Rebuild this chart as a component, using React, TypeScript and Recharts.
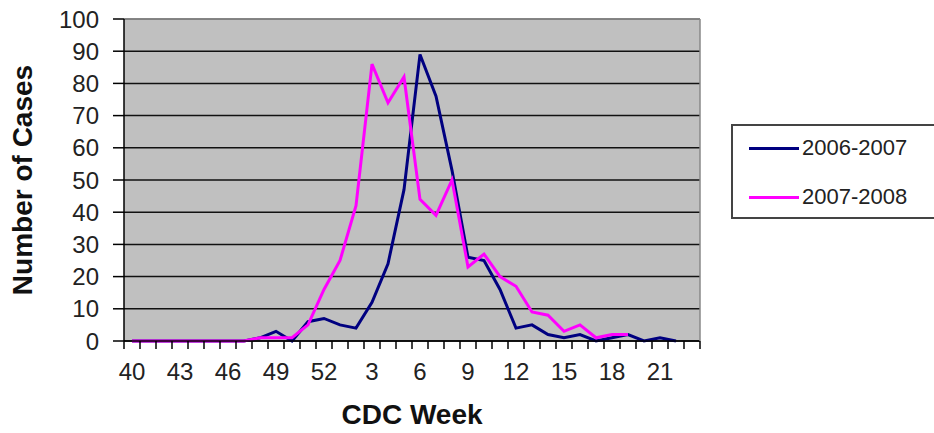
import { LineChart, Line, XAxis, YAxis, CartesianGrid, ReferenceLine, Legend } from 'recharts'

const weeks = [
  '40', '41', '42', '43', '44', '45', '46', '47', '48', '49', '50', '51', '52',
  '1', '2', '3', '4', '5', '6', '7', '8', '9', '10', '11', '12', '13', '14',
  '15', '16', '17', '18', '19', '20', '21', '22', '23',
]

const season0607 = [
  0, 0, 0, 0, 0, 0, 0, 0, 1, 3, 0, 6, 7,
  5, 4, 12, 24, 47, 89, 76, 53, 26, 25, 16, 4, 5, 2,
  1, 2, 0, 1, 2, 0, 1, 0, null,
]

const season0708 = [
  0, 0, 0, 0, 0, 0, 0, 0, 1, 1, 1, 5, 16,
  25, 42, 86, 74, 82, 44, 39, 50, 23, 27, 20, 17, 9, 8,
  3, 5, 1, 2, 2, null, null, null, null,
]

const yTicks = [0, 10, 20, 30, 40, 50, 60, 70, 80, 90, 100]

const data = weeks.map((w, i) => ({ week: w, a: season0607[i], b: season0708[i] }))

const FONT = '"Liberation Sans", Arial, sans-serif'
const W = 934
const H = 433
const Y_AXIS_W = 124
const MARGIN_RIGHT = 233
const PLOT_W = W - Y_AXIS_W - MARGIN_RIGHT - 1
const BAND = PLOT_W / weeks.length

function WeekTick(props: any) {
  const { x, y, payload, index } = props
  const left = x - BAND / 2
  const last = index === weeks.length - 1
  return (
    <g>
      <line x1={left} y1={y} x2={left} y2={y + 8} stroke="#000" strokeWidth={1.5} />
      {last && <line x1={x + BAND / 2} y1={y} x2={x + BAND / 2} y2={y + 8} stroke="#000" strokeWidth={1.5} />}
      {index % 3 === 0 && (
        <text x={x} y={y + 39} textAnchor="middle" fontSize={24} fill="#222" fontFamily={FONT}>
          {payload.value}
        </text>
      )}
    </g>
  )
}

function LegendBox() {
  const items = [
    { name: '2006-2007', color: '#000080' },
    { name: '2007-2008', color: '#ff00ff' },
  ]
  return (
    <div style={{ width: 210, height: 95, border: '2px solid #444', background: '#fff', boxSizing: 'border-box', position: 'relative', fontFamily: FONT }}>
      {items.map((it, i) => (
        <div key={it.name} style={{ position: 'absolute', left: 16, top: 8 + i * 49, height: 28, display: 'flex', alignItems: 'center' }}>
          <div style={{ width: 50, height: 3, background: it.color, marginRight: 3 }} />
          <span style={{ fontSize: 22, color: '#222' }}>{it.name}</span>
        </div>
      ))}
    </div>
  )
}

export default function App() {
  return (
    <div style={{ position: 'absolute', left: 0, top: 0, width: W, height: H, background: '#fff', overflow: 'hidden' }}>
      <LineChart width={W} height={H} data={data} margin={{ top: 19, right: MARGIN_RIGHT, bottom: 0, left: 0 }}>
        <CartesianGrid vertical={false} stroke="#111" strokeWidth={1.5} fill="#c0c0c0" />
        <XAxis
          dataKey="week"
          scale="band"
          interval={0}
          height={92}
          tickSize={0}
          tickMargin={0}
          tickLine={false}
          axisLine={{ stroke: '#000', strokeWidth: 1.5 }}
          tick={<WeekTick />}
          label={{ value: 'CDC Week', position: 'insideBottom', offset: 9, style: { fontSize: 28, fontWeight: 'bold', fill: '#111', fontFamily: FONT } }}
        />
        <YAxis
          domain={[0, 100]}
          ticks={yTicks}
          interval={0}
          width={Y_AXIS_W}
          tickSize={11}
          tickMargin={14}
          tickLine={{ stroke: '#000', strokeWidth: 1.5 }}
          axisLine={{ stroke: '#000', strokeWidth: 1.5 }}
          tick={{ fontSize: 24, fill: '#222', fontFamily: FONT }}
          label={{ value: 'Number of Cases', angle: -90, position: 'insideLeft', offset: 22, style: { textAnchor: 'middle', fontSize: 28, fontWeight: 'bold', fill: '#111', fontFamily: FONT } }}
        />
        <YAxis yAxisId="r" orientation="right" width={1} domain={[0, 100]} tick={false} tickLine={false} axisLine={{ stroke: '#888', strokeWidth: 1.5 }} />
        <ReferenceLine y={100} stroke="#999" strokeWidth={1.5} />
        <Legend
          layout="vertical"
          align="center"
          verticalAlign="middle"
          wrapperStyle={{ left: 731, top: 124, width: 210, height: 95 }}
          content={() => <LegendBox />}
        />
        <Line type="linear" dataKey="a" name="2006-2007" stroke="#000080" strokeWidth={3} dot={false} isAnimationActive={false} />
        <Line type="linear" dataKey="b" name="2007-2008" stroke="#ff00ff" strokeWidth={3} dot={false} isAnimationActive={false} />
      </LineChart>
    </div>
  )
}
